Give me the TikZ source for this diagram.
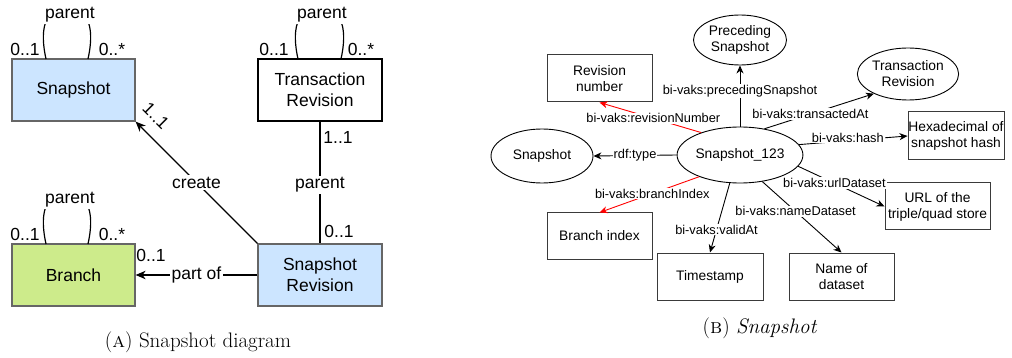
\documentclass[tikz,border=0pt]{standalone}
\usepackage{fontspec}
\newfontfamily\diagfont{Liberation Sans}
\usetikzlibrary{arrows.meta,shapes.geometric}
\definecolor{snapblue}{HTML}{CCE5FF}
\definecolor{branchgreen}{HTML}{CDEB8B}
\definecolor{boxgray}{HTML}{666666}
\definecolor{rboxgray}{HTML}{3A3A3A}
\definecolor{linkred}{HTML}{FF0000}
\tikzset{
  umlbox/.style={draw, line width=1.2pt, rectangle, inner sep=0pt, align=center,
    font=\diagfont\fontsize{17.5}{21}\selectfont},
  umltext/.style={inner sep=1pt, font=\diagfont\fontsize{17.5}{21}\selectfont},
  umllabel/.style={umltext, fill=white, inner sep=1.5pt},
  umlline/.style={line width=1.2pt},
  umlarrow/.style={umlline, -{Stealth[length=10pt,width=8.5pt,inset=3pt]}},
  rdfnode/.style={draw, line width=0.9pt, ellipse, inner sep=0pt, align=center,
    font=\diagfont\fontsize{13.8}{16}\selectfont},
  rdfbox/.style={draw=rboxgray, line width=1pt, rectangle, inner sep=0pt, align=center,
    font=\diagfont\fontsize{13.8}{16}\selectfont},
  rdfedge/.style={line width=0.9pt, -{Stealth[length=8pt,width=7pt,inset=2.5pt]}},
  rdflabel/.style={fill=white, inner sep=1pt, text=black,
    font=\diagfont\fontsize{12.8}{15}\selectfont},
  caption/.style={inner sep=0pt, font=\fontsize{21}{24}\selectfont},
}
\begin{document}
\begin{tikzpicture}[x=1pt,y=-1pt]
\useasboundingbox (0,0) rectangle (1012,358);

% ---------- (A) class diagram ----------
\node[umlbox, fill=snapblue, draw=boxgray, minimum width=123pt, minimum height=62pt] (snap) at (73.5,90) {Snapshot};
\node[umlbox, fill=white, draw=black, minimum width=124pt, minimum height=62pt] (trev) at (320,90) {Transaction\\Revision};
\node[umlbox, fill=branchgreen, draw=boxgray, minimum width=123pt, minimum height=62pt] (branch) at (73.5,275) {Branch};
\node[umlbox, fill=snapblue, draw=boxgray, minimum width=124pt, minimum height=62pt] (srev) at (320,275) {Snapshot\\Revision};

% self associations "parent"
\coordinate (snapL) at (46,59);   \coordinate (snapR) at (88,59);
\coordinate (trevL) at (298,59);  \coordinate (trevR) at (341,59);
\coordinate (brL) at (46,244);    \coordinate (brR) at (88,244);
\draw[umlline] (snapL) .. controls (40,32) and (43,8) .. (67,8) .. controls (91,8) and (94,32) .. (snapR);
\draw[umlline] (trevL) .. controls (292,32) and (295,8) .. (319.5,8) .. controls (344,8) and (347,32) .. (trevR);
\draw[umlline] (brL) .. controls (40,217) and (43,193) .. (67,193) .. controls (91,193) and (94,217) .. (brR);
\node[umllabel] (snapP) at (70,15) {parent};
\node[umllabel] (trevP) at (322,15) {parent};
\node[umllabel] (brP) at (70,200) {parent};
\node[umltext] (snapM1) at (25,49) {0..1};
\node[umltext] (snapM2) at (112,49) {0..*};
\node[umltext] (trevM1) at (274,49) {0..1};
\node[umltext] (trevM2) at (361,49) {0..*};
\node[umltext] (brM1) at (25,234) {0..1};
\node[umltext] (brM2) at (112,234) {0..*};

% associations between classes
\draw[umlarrow] (srev.north west) -- node[umllabel, pos=0.5] (createL) {create} (snap.south east);
\node[umltext, rotate=-45] (createM) at (156,116) {1..1};
\draw[umlline] (trev.south) -- node[umllabel, pos=0.52] (parentL) {parent} (srev.north);
\node[umltext] (parentM1) at (338,137) {1..1};
\node[umltext] (parentM2) at (339,231) {0..1};
\draw[umlarrow] (srev.west) -- node[umllabel, pos=0.5] (partL) {part of} (branch.east);
\node[umltext] (partM) at (151,255) {0..1};

% ---------- (B) RDF graph ----------
\node[rdfnode, minimum width=105pt, minimum height=56pt] (s123) at (740,155) {Snapshot\_123};
\node[rdfnode, minimum width=93pt, minimum height=50pt] (prec) at (740,40) {Preceding\\Snapshot};
\node[rdfnode, minimum width=93pt, minimum height=52pt] (trx) at (908,74) {Transaction\\Revision};
\node[rdfnode, minimum width=102pt, minimum height=54pt] (stype) at (542,156) {Snapshot};
\node[rdfbox, minimum width=105pt, minimum height=47pt] (revnum) at (599.5,78.5) {Revision\\number};
\node[rdfbox, minimum width=96pt, minimum height=48pt] (hex) at (956,136) {Hexadecimal of\\snapshot hash};
\node[rdfbox, minimum width=105pt, minimum height=47pt] (url) at (937.5,206.5) {URL of the\\triple/quad store};
\node[rdfbox, minimum width=105pt, minimum height=46pt] (bidx) at (599.5,236) {Branch index};
\node[rdfbox, minimum width=106pt, minimum height=47pt] (ts) at (710,276.5) {Timestamp};
\node[rdfbox, minimum width=105pt, minimum height=47pt] (dsname) at (841.5,276.5) {Name of\\dataset};

\draw[rdfedge] (s123.north) -- node[rdflabel, pos=0.58] (lprec) {bi-vaks:precedingSnapshot} (prec.south);
\draw[rdfedge, linkred] (s123.150) -- node[rdflabel, pos=0.47] (lrev) {bi-vaks:revisionNumber} (revnum.south);
\draw[rdfedge] (s123.47) -- node[rdflabel, pos=0.42] (ltrx) {bi-vaks:transactedAt} (trx.210);
\draw[rdfedge] (s123.west) -- node[rdflabel, pos=0.5] (ltype) {rdf:type} (stype.east);
\draw[rdfedge] (s123.10) -- node[rdflabel, pos=0.45, yshift=3pt] (lhash) {bi-vaks:hash} (hex.west);
\draw[rdfedge] (s123.-11) -- node[rdflabel, pos=0.42] (lurl) {bi-vaks:urlDataset} (url.west);
\draw[rdfedge, linkred] (s123.208) -- node[rdflabel, pos=0.47] (lbidx) {bi-vaks:branchIndex} (bidx.north);
\draw[rdfedge] (s123.250) -- node[rdflabel, pos=0.67] (lvalid) {bi-vaks:validAt} (ts.north);
\draw[rdfedge] (s123.-50) -- node[rdflabel, pos=0.42] (lname) {bi-vaks:nameDataset} (dsname.north);

% ---------- captions ----------
\node[caption] (capA) at (198,342) {(\textsc{a}) Snapshot diagram};
\node[caption] (capB) at (760,328) {(\textsc{b}) \textit{Snapshot}};
\end{tikzpicture}
\end{document}
